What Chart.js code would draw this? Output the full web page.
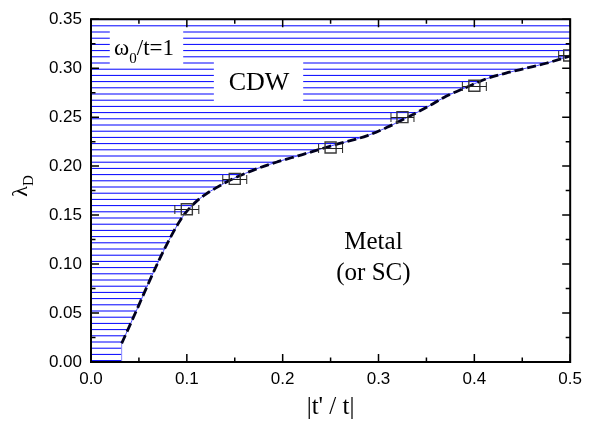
<!DOCTYPE html>
<html>
<head>
<meta charset="utf-8">
<script src="https://cdn.jsdelivr.net/npm/chart.js@4/dist/chart.umd.min.js"></script>
<style>
  html, body { margin: 0; padding: 0; background: #fff; }
  #wrap { width: 589px; height: 424px; }
</style>
</head>
<body>
<div id="wrap"><canvas id="c"></canvas></div>
<script>
// phase diagram: CDW vs metal, omega0/t = 1
const xTicks = [0, 0.1, 0.2, 0.3, 0.4, 0.5];
const yTicks = [0, 0.05, 0.10, 0.15, 0.20, 0.25, 0.30, 0.35];

// QMC points with x error bars
const pointX = [0.1, 0.15, 0.25, 0.325, 0.4, 0.499];
const pointY = [0.156, 0.187, 0.219, 0.250, 0.282, 0.313];
const pointXErr = [0.0125, 0.0125, 0.0125, 0.012, 0.0125, 0.011];

// phase boundary; starts with a vertical step at x=0.032
const stepX = [0.032, 0.032];
const stepY = [0.000, 0.019];
const lineX = [0.032, 0.044, 0.058, 0.071, 0.085, 0.094, 0.101, 0.110, 0.120, 0.130, 0.147, 0.175, 0.195, 0.216, 0.230, 0.250, 0.2885, 0.309, 0.330, 0.351, 0.371, 0.392, 0.413, 0.433, 0.454, 0.475, 0.500];
const lineY = [0.019, 0.045, 0.076, 0.104, 0.131, 0.146, 0.155, 0.164, 0.1715, 0.1775, 0.1865, 0.198, 0.2045, 0.2105, 0.2145, 0.2205, 0.2312, 0.2396, 0.2497, 0.2604, 0.2715, 0.2806, 0.2893, 0.295, 0.300, 0.305, 0.3125];

const serif = '"Liberation Serif", "Times New Roman", serif';
const sans = '"Liberation Sans", Arial, sans-serif';

const canvas = document.getElementById('c');
const ctx0 = canvas.getContext('2d');

// horizontal hatching, 6.2px pitch, drawn at fractional rows like the original
function hatch() {
  const c = document.createElement('canvas');
  c.width = 8; c.height = 62;
  const g = c.getContext('2d');
  g.fillStyle = '#0000ff';
  for (let k = 0; k < 10; k++) g.fillRect(0, 0.5 + k * 6.2, 8, 1);
  return ctx0.createPattern(c, 'repeat');
}

const step = stepX.map((x, i) => ({ x, y: stepY[i] }));
const boundary = lineX.map((x, i) => ({ x, y: lineY[i] }));
const fillData = [{ x: 0, y: 0 }].concat(step[0], boundary);
const points = pointX.map((x, i) => ({ x, y: pointY[i] }));

const labels = {
  id: 'labels',
  beforeDatasetsDraw(chart) {
    const { ctx, scales: { x, y } } = chart;
    ctx.save();
    ctx.fillStyle = '#fff';
    // white boxes behind the labels
    let l = x.getPixelForValue(0.0196), r = x.getPixelForValue(0.0962);
    let t = y.getPixelForValue(0.3404), b = y.getPixelForValue(0.302);
    ctx.fillRect(l, t, r - l, b - t);
    l = x.getPixelForValue(0.1282); r = x.getPixelForValue(0.2214);
    t = y.getPixelForValue(0.308); b = y.getPixelForValue(0.2628);
    ctx.fillRect(l, t, r - l, b - t);

    ctx.fillStyle = '#000';
    ctx.textBaseline = 'alphabetic';
    // omega_0/t=1
    let px = x.getPixelForValue(0.0241), py = y.getPixelForValue(0.3135);
    ctx.textAlign = 'left';
    ctx.font = '23px ' + serif;
    ctx.fillText('ω', px, py);
    px += ctx.measureText('ω').width;
    ctx.font = '15px ' + serif;
    ctx.fillText('0', px, py + 8);
    px += ctx.measureText('0').width;
    ctx.font = '23px ' + serif;
    ctx.fillText('/t=1', px, py);

    ctx.textAlign = 'center';
    ctx.font = '26px ' + serif;
    ctx.fillText('CDW', x.getPixelForValue(0.1753), y.getPixelForValue(0.2776));
    ctx.font = '25px ' + serif;
    ctx.fillText('Metal', x.getPixelForValue(0.2947), y.getPixelForValue(0.1152));
    ctx.fillText('(or SC)', x.getPixelForValue(0.2947), y.getPixelForValue(0.0839));
    ctx.restore();
  },
  afterDatasetsDraw(chart) {
    const { ctx, chartArea: ca, scales: { x, y } } = chart;
    ctx.save();
    ctx.beginPath();
    ctx.rect(ca.left, ca.top, ca.right - ca.left, ca.bottom - ca.top);
    ctx.clip();
    ctx.strokeStyle = '#222';
    ctx.lineWidth = 1;
    ctx.beginPath();
    pointX.forEach((v, i) => {
      const yy = Math.round(y.getPixelForValue(pointY[i])) + 0.5;
      const a = x.getPixelForValue(v - pointXErr[i]);
      const b = x.getPixelForValue(v + pointXErr[i]);
      ctx.moveTo(a, yy); ctx.lineTo(b, yy);
      ctx.moveTo(a, yy - 4.5); ctx.lineTo(a, yy + 4.5);
      ctx.moveTo(b, yy - 4.5); ctx.lineTo(b, yy + 4.5);
    });
    ctx.stroke();
    ctx.restore();
  },
  afterDraw(chart) {
    const { ctx, chartArea: ca, scales: { x, y } } = chart;
    ctx.save();
    ctx.strokeStyle = '#000';
    ctx.lineWidth = 1.5;
    ctx.beginPath();
    const tickX = (vals, len) => vals.forEach(v => {
      const px = x.getPixelForValue(v);
      ctx.moveTo(px, ca.bottom); ctx.lineTo(px, ca.bottom - len);
      ctx.moveTo(px, ca.top); ctx.lineTo(px, ca.top + len);
    });
    const tickY = (vals, len) => vals.forEach(v => {
      const py = y.getPixelForValue(v);
      ctx.moveTo(ca.left, py); ctx.lineTo(ca.left + len, py);
      ctx.moveTo(ca.right, py); ctx.lineTo(ca.right - len, py);
    });
    tickX(xTicks, 8);
    tickX(xTicks.slice(1).map(v => v - 0.05), 4.5);
    tickY(yTicks, 8);
    tickY(yTicks.slice(1).map(v => v - 0.025), 4.5);
    ctx.stroke();
    ctx.lineWidth = 2;
    ctx.strokeRect(ca.left, ca.top, ca.right - ca.left, ca.bottom - ca.top);

    // y axis title: lambda_D
    ctx.translate(20, 186);
    ctx.rotate(-Math.PI / 2);
    ctx.fillStyle = '#000';
    ctx.textBaseline = 'alphabetic';
    ctx.textAlign = 'left';
    ctx.font = '22px ' + serif;
    const w1 = ctx.measureText('λ').width;
    ctx.font = '15px ' + serif;
    const w2 = ctx.measureText('D').width;
    const sx = -(w1 + w2) / 2;
    ctx.font = '22px ' + serif;
    ctx.fillText('λ', sx, 7);
    ctx.font = '15px ' + serif;
    ctx.fillText('D', sx + w1, 13);
    ctx.restore();
  }
};

new Chart(canvas, {
  type: 'line',
  data: {
    datasets: [
      { data: points, showLine: false, pointStyle: 'rect', pointRadius: 7.8,
        pointBorderColor: '#3a3a3a', pointBorderWidth: 1.4, pointBackgroundColor: 'rgba(0,0,0,0)', order: 0 },
      { data: boundary, borderColor: '#00001e', borderWidth: 2.8, borderDash: [9, 4],
        pointRadius: 0, fill: false, cubicInterpolationMode: 'monotone', order: 1 },
      { data: boundary, borderColor: '#4a4aff', borderWidth: 1, pointRadius: 0, fill: false,
        cubicInterpolationMode: 'monotone', order: 2 },
      { data: step, borderColor: '#8a8aff', borderWidth: 1, pointRadius: 0, fill: false, tension: 0, order: 2 },
      { data: fillData, borderWidth: 0, borderColor: 'rgba(0,0,0,0)', backgroundColor: hatch(),
        pointRadius: 0, fill: 'end', tension: 0, order: 3 }
    ]
  },
  options: {
    responsive: true,
    maintainAspectRatio: false,
    animation: false,
    devicePixelRatio: 1,
    layout: { padding: { top: 15, right: 14, left: 0, bottom: 0 } },
    plugins: {
      legend: { display: false },
      tooltip: { enabled: false },
      filler: { drawTime: 'beforeDatasetsDraw' }
    },
    scales: {
      x: {
        type: 'linear', min: 0, max: 0.5,
        afterBuildTicks: s => { s.ticks = xTicks.map(v => ({ value: v })); },
        afterFit: s => { s.height = 62; },
        grid: { display: false, drawTicks: false },
        border: { display: false },
        ticks: { color: '#000', font: { family: sans, size: 17 }, padding: 7, maxRotation: 0,
          callback: v => v.toFixed(1) },
        title: { display: true, text: "|t' / t|", color: '#000', font: { family: serif, size: 25 },
          padding: { top: 0, bottom: 2 } }
      },
      y: {
        type: 'linear', min: 0, max: 0.35,
        afterBuildTicks: s => { s.ticks = yTicks.map(v => ({ value: v })); },
        afterFit: s => { s.width = 91; },
        grid: { display: false, drawTicks: false },
        border: { display: false },
        ticks: { color: '#000', font: { family: sans, size: 17 }, padding: 9,
          callback: v => v.toFixed(2) }
      }
    }
  },
  plugins: [labels]
});
</script>
</body>
</html>
